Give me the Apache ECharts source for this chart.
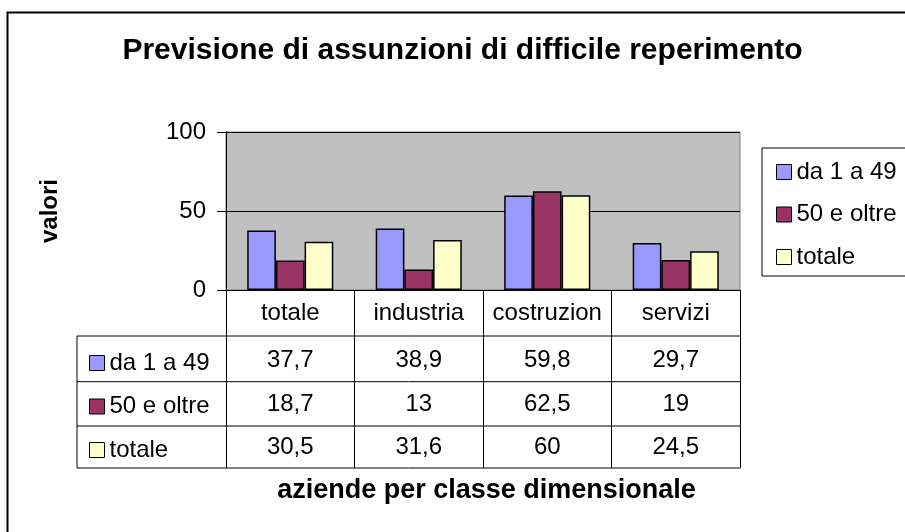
<!DOCTYPE html>
<html>
<head>
<meta charset="utf-8">
<script src="https://cdn.jsdelivr.net/npm/echarts@6/dist/echarts.min.js"></script>
<style>
html,body{margin:0;padding:0;background:#fff;}
#chart{width:905px;height:532px;}
</style>
</head>
<body>
<div id="chart"></div>
<script>
var categories = ['totale', 'industria', 'costruzion', 'servizi'];
var seriesNames = ['da 1 a 49', '50 e oltre', 'totale'];
var da1a49 = [37.7, 38.9, 59.8, 29.7];
var oltre50 = [18.7, 13, 62.5, 19];
var totale = [30.5, 31.6, 60, 24.5];
var yTicks = [0, 50, 100];
var colors = ['#9999FF', '#993366', '#FFFFCC'];
var titleText = 'Previsione di assunzioni di difficile reperimento';
var yTitle = 'valori';
var xTitle = 'aziende per classe dimensionale';

var seriesData = [da1a49, oltre50, totale];
var FONT = 'Liberation Sans, Arial, sans-serif';
var G = {left: 226, top: 132, width: 514, height: 158};
var bottomY = G.top + G.height;
var rowCenters = [360.5, 404, 447.5];
var rowLines = [336, 381.7, 426, 468];
var tableLeft = 77;
var tableRight = G.left + G.width;

function fmt(v) { return String(v).replace('.', ','); }

var chart = echarts.init(document.getElementById('chart'), null, {renderer: 'canvas'});

var xAxes = [{
  type: 'category', data: categories, gridIndex: 0, position: 'bottom',
  axisLine: {show: true, lineStyle: {color: '#000', width: 1}},
  axisTick: {show: true, length: rowLines[3] - bottomY, lineStyle: {color: '#000', width: 1}},
  axisLabel: {show: true, margin: 23, verticalAlign: 'middle', fontFamily: FONT, fontSize: 24, color: '#000', interval: 0},
  name: xTitle, nameLocation: 'middle', nameGap: 201,
  nameTextStyle: {fontFamily: FONT, fontSize: 27, fontWeight: 'bold', color: '#000', verticalAlign: 'middle', padding: [0, 0, 0, 7]},
  splitLine: {show: false}
}];
seriesData.forEach(function (arr, k) {
  xAxes.push({
    type: 'category', data: categories, gridIndex: 0, position: 'bottom',
    axisLine: {show: false}, axisTick: {show: false}, splitLine: {show: false},
    axisLabel: {
      show: true, interval: 0, margin: rowCenters[k] - bottomY, verticalAlign: 'middle',
      fontFamily: FONT, fontSize: 24, color: '#000',
      formatter: function (value, index) { return fmt(arr[index]); }
    }
  });
});

var series = seriesData.map(function (arr, k) {
  return {
    name: seriesNames[k], type: 'bar', xAxisIndex: 0, yAxisIndex: 0,
    data: arr, barGap: '0%', barCategoryGap: '33%',
    itemStyle: {color: colors[k], borderColor: '#000', borderWidth: 1.5},
    emphasis: {disabled: true}, animation: false
  };
});

var legendCommon = {
  orient: 'vertical', itemWidth: 15, itemHeight: 15, itemGap: 18.5,
  icon: 'rect', itemTextGap: 6,
  textStyle: {fontFamily: FONT, fontSize: 24, color: '#000', lineHeight: 24},
  itemStyle: {borderColor: '#000', borderWidth: 1},
  selectedMode: false, data: seriesNames
};

var graphics = [];
// outer chart frame
graphics.push({type: 'rect', shape: {x: 7.5, y: 12.5, width: 960, height: 600}, style: {fill: null, stroke: '#000', lineWidth: 2}, z: 100});
// legend box
graphics.push({type: 'rect', shape: {x: 762, y: 148, width: 200, height: 128}, style: {fill: '#fff', stroke: '#000', lineWidth: 1}, z: 0});
// table horizontal lines
rowLines.forEach(function (y) {
  graphics.push({type: 'line', shape: {x1: tableLeft, y1: y, x2: tableRight, y2: y}, style: {stroke: '#000', lineWidth: 1}, z: 50});
});
// table left edge
graphics.push({type: 'line', shape: {x1: tableLeft, y1: rowLines[0], x2: tableLeft, y2: rowLines[3]}, style: {stroke: '#000', lineWidth: 1}, z: 50});

var option = {
  backgroundColor: '#fff',
  animation: false,
  title: {
    text: titleText, left: 457.5, top: 31, textAlign: 'center',
    textStyle: {fontFamily: FONT, fontSize: 30, fontWeight: 'bold', color: '#000'}
  },
  grid: {left: G.left, top: G.top, width: G.width, height: G.height, show: true, backgroundColor: '#C0C0C0', borderColor: '#808080', borderWidth: 1, containLabel: false},
  legend: [
    Object.assign({}, legendCommon, {left: 771, top: 155, z: 10}),
    Object.assign({}, legendCommon, {left: 84, top: 346, itemGap: 19.5})
  ],
  xAxis: xAxes,
  yAxis: {
    type: 'value', min: 0, max: 100, interval: 50,
    axisLine: {show: true, lineStyle: {color: '#000', width: 1}},
    axisTick: {show: true, length: 9, lineStyle: {color: '#000'}},
    axisLabel: {margin: 20, fontFamily: FONT, fontSize: 24, color: '#000',
      formatter: function (v) { return yTicks.indexOf(v) >= 0 ? String(v) : ''; }},
    splitLine: {show: true, lineStyle: {color: '#000', width: 1}},
    name: yTitle, nameLocation: 'middle', nameGap: 164, nameRotate: 90,
    nameTextStyle: {fontFamily: FONT, fontSize: 24, fontWeight: 'bold', color: '#000'}
  },
  series: series,
  graphic: graphics
};
chart.setOption(option);
</script>
</body>
</html>
